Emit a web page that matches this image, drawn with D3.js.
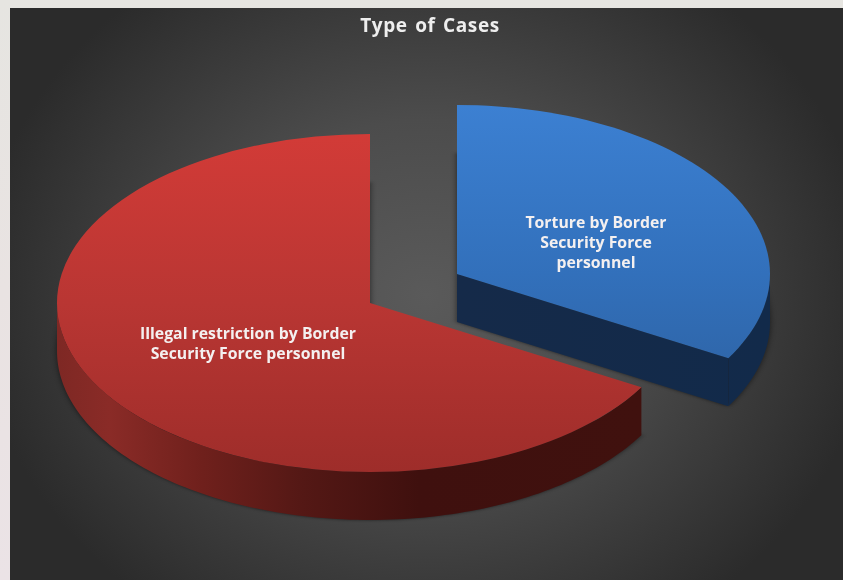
<!DOCTYPE html>
<html><head><meta charset="utf-8">
<script src="https://cdn.jsdelivr.net/npm/d3@7/dist/d3.min.js"></script>
<style>html,body{margin:0;padding:0;background:#e9e7e4;overflow:hidden}svg{display:block}</style>
</head><body><svg id="c" width="843" height="580"></svg>
<script>
const chartTitle = "Type of Cases";
const categories = ["Torture by Border Security Force personnel", "Illegal restriction by Border Security Force personnel"];
const shareValues = [33.3, 66.7];
const labelLines = [["Torture by Border", "Security Force", "personnel"], ["Illegal restriction by Border", "Security Force personnel"]];

const W = 843, H = 580, rx = 313, ry = 169, depth = 48;
const centers = [[457, 274], [370, 303]];
const labelPos = [[596, 228, 20], [248, 339, 20]];
const faceStops = [
  [["0", "#3c80d2"], ["0.5", "#3270bb"], ["1", "#2c5e9c"]],
  [["0", "#d23b37"], ["0.5", "#b93633"], ["1", "#9e2d2a"]]
];

const svg = d3.select("#c");
const defs = svg.append("defs");

const pg = defs.append("linearGradient").attr("id", "page").attr("x1", 0).attr("x2", 0).attr("y1", 0).attr("y2", 1);
[["0", "#e6e5e1"], ["0.5", "#e9e3e2"], ["1", "#ebe3e6"]].forEach(s => pg.append("stop").attr("offset", s[0]).attr("stop-color", s[1]));

const bg = defs.append("radialGradient").attr("id", "bg").attr("gradientUnits", "userSpaceOnUse")
  .attr("cx", 426).attr("cy", 295).attr("r", 1).attr("gradientTransform", "translate(426 295) scale(450 390) translate(-426 -295)");
[["0", "#5a5a5a"], ["0.45", "#4c4c4c"], ["1", "#2b2b2b"]].forEach(s => bg.append("stop").attr("offset", s[0]).attr("stop-color", s[1]));

// The face gradients live in the slice's own scaled coordinate space.
faceStops.forEach((st, i) => {
  const g = defs.append("linearGradient").attr("id", "face" + i).attr("gradientUnits", "userSpaceOnUse")
    .attr("x1", 0).attr("x2", 0).attr("y1", -rx).attr("y2", rx);
  st.forEach(s => g.append("stop").attr("offset", s[0]).attr("stop-color", s[1]));
});
const wg = defs.append("linearGradient").attr("id", "wallRed").attr("gradientUnits", "userSpaceOnUse").attr("x1", 57).attr("x2", 641).attr("y1", 0).attr("y2", 0);
[["0", "#7e2824"], ["0.09", "#8a2b27"], ["0.25", "#6f201c"], ["0.42", "#541815"], ["0.62", "#3f100e"], ["1", "#40110e"]].forEach(s => wg.append("stop").attr("offset", s[0]).attr("stop-color", s[1]));
const wb = defs.append("linearGradient").attr("id", "wallBlue").attr("gradientUnits", "userSpaceOnUse").attr("x1", 457).attr("x2", 772).attr("y1", 0).attr("y2", 0);
[["0", "#152a49"], ["1", "#122a4a"]].forEach(s => wb.append("stop").attr("offset", s[0]).attr("stop-color", s[1]));
defs.append("filter").attr("id", "blur").attr("x", "-10%").attr("y", "-10%").attr("width", "120%").attr("height", "120%")
  .append("feGaussianBlur").attr("stdDeviation", 3);
defs.append("filter").attr("id", "soft").attr("x", "-10%").attr("y", "-30%").attr("width", "120%").attr("height", "160%")
  .append("feGaussianBlur").attr("stdDeviation", 0.4);

svg.append("rect").attr("width", W).attr("height", H).attr("fill", "url(#page)");
svg.append("rect").attr("x", 10).attr("y", 8).attr("width", W - 10).attr("height", H - 8).attr("fill", "url(#bg)");

const pie = d3.pie().sort(null).startAngle(0).endAngle(2 * Math.PI);
const slices = pie(shareValues);
const arc = d3.arc().innerRadius(0).outerRadius(rx);
const k = ry / rx;
const pt = (c, a, dy = 0) => [c[0] + rx * Math.sin(a), c[1] - ry * Math.cos(a) + dy];
const line = d3.line();

slices.forEach((d, i) => {
  const c = centers[i];
  // soft shadow of the extruded body
  svg.append("path").attr("d", arc(d))
    .attr("transform", `translate(${c[0]},${c[1] + depth}) scale(1,${k})`)
    .attr("fill", "#000").attr("opacity", 0.55).attr("filter", "url(#blur)");
});

slices.forEach((d, i) => {
  const c = centers[i];
  const fill = i === 0 ? "url(#wallBlue)" : "url(#wallRed)";
  // curved outer wall, only the part facing the viewer
  const a0 = Math.max(d.startAngle, Math.PI / 2), a1 = Math.min(d.endAngle, 3 * Math.PI / 2);
  const as = d3.range(0, 121).map(j => a0 + (a1 - a0) * j / 120);
  const outline = as.map(a => pt(c, a)).concat(as.slice().reverse().map(a => pt(c, a, depth)));
  svg.append("path").attr("d", line(outline) + "Z").attr("fill", fill);
  // cut face, visible when it looks down towards the viewer
  if (i === 0) {
    const e = d.endAngle;
    svg.append("path").attr("d", line([[c[0], c[1]], pt(c, e), pt(c, e, depth), [c[0], c[1] + depth]]) + "Z").attr("fill", fill);
  }
  svg.append("path").attr("d", arc(d))
    .attr("transform", `translate(${c[0]},${c[1]}) scale(1,${k})`)
    .attr("fill", `url(#face${i})`);
});

const fam = "'Open Sans', Lato, sans-serif";
svg.append("text").attr("x", 430).attr("y", 32).attr("text-anchor", "middle")
  .attr("font-family", fam).attr("font-weight", 700).attr("font-size", 19).attr("letter-spacing", 0.6)
  .attr("word-spacing", 2).attr("fill", "#eeeeee").attr("filter", "url(#soft)").text(chartTitle);

labelLines.forEach((ls, i) => {
  const t = svg.append("text").attr("text-anchor", "middle").attr("font-family", fam)
    .attr("font-weight", 700).attr("font-size", 15.8)
    .attr("fill", "#f4f0f0").attr("filter", "url(#soft)");
  ls.forEach((l, j) => t.append("tspan").attr("x", labelPos[i][0]).attr("y", labelPos[i][1] + j * labelPos[i][2]).text(l));
});
</script></body></html>
